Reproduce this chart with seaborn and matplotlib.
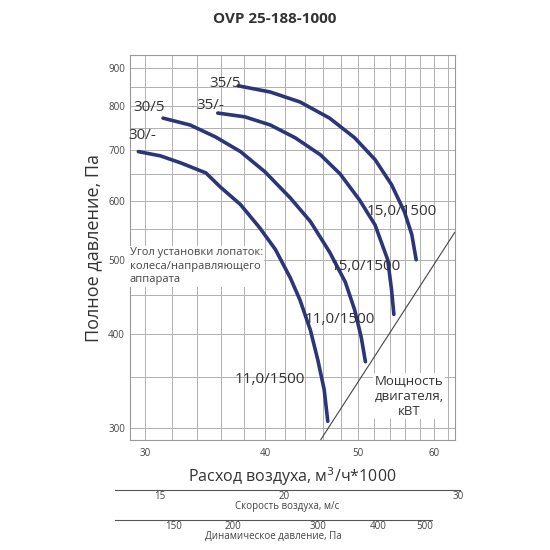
import matplotlib
matplotlib.use("Agg")
import matplotlib.pyplot as plt
import seaborn as sns
import pandas as pd
from matplotlib.ticker import FixedLocator, NullFormatter

sns.set_style("white")
plt.rcParams['font.family'] = ['Open Sans', 'DejaVu Sans']

# fan curves: flow (m3/h*1000) vs total pressure (Pa)
flow_30 = [29.5, 31.1, 32.7, 34.7, 35.9, 37.7, 39.5, 41.0, 42.5, 43.5, 44.6, 45.4, 46.1, 46.5]
pres_30 = [697, 688, 673, 653, 626, 593, 552, 517, 474, 443, 404, 369, 337, 306]
flow_30_5 = [31.3, 33.4, 35.5, 37.7, 40.0, 42.5, 44.6, 46.7, 48.5, 49.6, 50.4, 50.9]
pres_30_5 = [772, 756, 729, 697, 655, 605, 563, 513, 468, 430, 395, 367]
flow_35 = [35.7, 38.1, 40.5, 43.0, 45.7, 47.9, 50.2, 52.1, 53.7, 54.2, 54.5]
pres_35 = [784, 775, 756, 727, 690, 651, 601, 557, 501, 457, 424]
flow_35_5 = [37.5, 40.5, 43.5, 46.7, 49.6, 52.1, 54.2, 55.9, 56.9, 57.5]
pres_35_5 = [852, 836, 811, 772, 727, 680, 630, 580, 541, 501]
power_flow = [45.7, 63.1]
power_pres = [289, 545]

curve_names = ["30/-", "30/5", "35/-", "35/5"]
power_labels = ["11,0/1500", "11,0/1500", "15,0/1500", "15,0/1500"]

y_ticks = [300, 400, 500, 600, 700, 800, 900]
x_ticks = [30, 40, 50, 60]
vel_ticks = [15, 20, 30]
vel_minor = list(range(14, 31))
dyn_ticks = [150, 200, 300, 400, 500]
dyn_minor = list(range(120, 520, 10))

rows = []
for name, xs, ys in zip(curve_names, [flow_30, flow_30_5, flow_35, flow_35_5],
                        [pres_30, pres_30_5, pres_35, pres_35_5]):
    for x, y in zip(xs, ys):
        rows.append({"curve": name, "flow": x, "pres": y})
df = pd.DataFrame(rows)

fig = plt.figure(figsize=(5.5, 5.5), dpi=100)
ax = fig.add_axes([0.236, 0.2, 0.591, 0.7])
ax.set_xscale("log")
ax.set_yscale("log")
ax.set_xlim(28.9, 63.1)
ax.set_ylim(289, 936)

for v in range(30, 64, 2):
    ax.axvline(v, color="#b0b0b0", lw=0.7, zorder=0)
for v in range(300, 950, 50):
    ax.axhline(v, color="#b0b0b0", lw=0.7, zorder=0)

sns.lineplot(data=df, x="flow", y="pres", units="curve", estimator=None, sort=False,
             color="#2b3578", lw=2.6, ax=ax, solid_joinstyle="round",
             solid_capstyle="round")
ax.plot(power_flow, power_pres, color="#444444", lw=0.8)

ax.yaxis.set_major_locator(FixedLocator(y_ticks))
ax.yaxis.set_minor_formatter(NullFormatter())
ax.set_yticklabels([str(t) for t in y_ticks])
ax.xaxis.set_major_locator(FixedLocator(x_ticks))
ax.xaxis.set_minor_formatter(NullFormatter())
ax.set_xticklabels([str(t) for t in x_ticks])
ax.tick_params(axis="both", which="both", labelsize=7, colors="#444444", length=0)
ax.tick_params(axis="x", pad=6)
for s in ax.spines.values():
    s.set_color("#999999")
    s.set_linewidth(0.8)

ax.set_ylabel("Полное давление, Па", fontsize=13, color="#333333")
ax.set_xlabel("Расход воздуха, м$^3$/ч*1000", fontsize=11.5, color="#333333", labelpad=4)

lab_pos = [(29.8, 732), (30.3, 797), (35.1, 802), (36.3, 857)]
for name, (x, y) in zip(curve_names, lab_pos):
    ax.text(x, y, name, fontsize=11, color="#333333", ha="center", va="center")
pw_pos = [(40.5, 348), (47.9, 418), (50.9, 491), (55.5, 580)]
for lab, (x, y) in zip(power_labels, pw_pos):
    ax.text(x, y, lab, fontsize=11, color="#333333", ha="center", va="center")

ax.text(0.0, 0.5, "Угол установки лопаток:\nколеса/направляющего\nаппарата",
        transform=ax.transAxes, fontsize=8, color="#444444", va="top", ha="left",
        linespacing=1.3, bbox=dict(facecolor="white", edgecolor="none", pad=1))
ax.text(0.86, 0.17, "Мощность\nдвигателя,\nкВТ", transform=ax.transAxes,
        fontsize=9.5, color="#333333", va="top", ha="center",
        bbox=dict(facecolor="white", edgecolor="none", pad=1))

fig.text(0.5, 0.965, "OVP 25-188-1000", ha="center", va="center",
         fontsize=11, fontweight="bold", color="#333333")


def scale_axis(rect, lo, hi, major, minor, label):
    a = fig.add_axes(rect)
    a.set_xscale("log")
    a.set_xlim(lo, hi)
    a.set_yticks([])
    for k in ["top", "left", "right"]:
        a.spines[k].set_visible(False)
    a.spines["bottom"].set_color("#555555")
    a.spines["bottom"].set_linewidth(0.8)
    a.xaxis.set_major_locator(FixedLocator(major))
    a.xaxis.set_minor_locator(FixedLocator(minor))
    a.xaxis.set_minor_formatter(NullFormatter())
    a.set_xticklabels([str(t) for t in major])
    a.tick_params(axis="x", which="major", direction="in", length=7, labelsize=7,
                  colors="#444444", pad=1)
    a.tick_params(axis="x", which="minor", direction="in", length=3, colors="#444444")
    a.set_xlabel(label, fontsize=7, color="#444444", labelpad=-1)
    a.patch.set_alpha(0)
    return a


scale_axis([0.209, 0.109, 0.627, 0.001], 13.5, 30.1, vel_ticks, vel_minor,
           "Скорость воздуха, м/с")
scale_axis([0.209, 0.0545, 0.576, 0.001], 113.5, 517, dyn_ticks, dyn_minor,
           "Динамическое давление, Па")

fig.savefig("out.png", dpi=100)
